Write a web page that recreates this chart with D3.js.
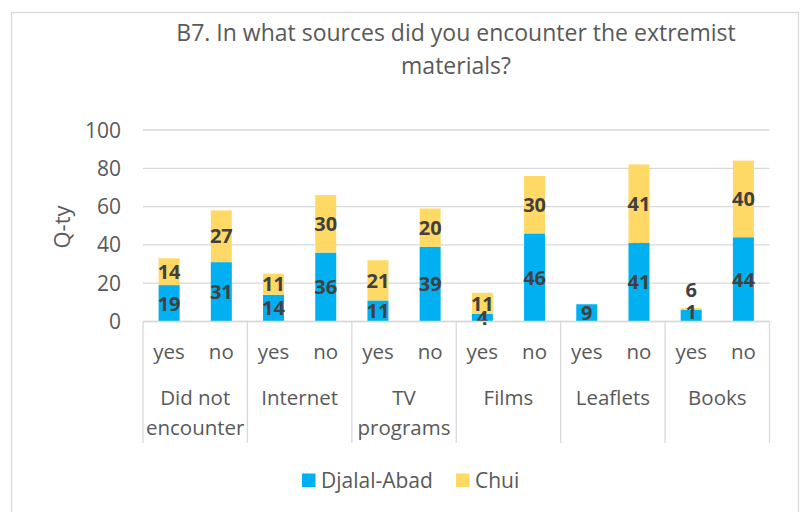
<!DOCTYPE html>
<html>
<head>
<meta charset="utf-8">
<script src="https://cdn.jsdelivr.net/npm/d3@7"></script>
<style>
    body { margin: 0; background: #fff; }
    svg { font-family: "Open Sans", Lato, sans-serif; }
</style>
</head>
<body>
<svg id="chart"></svg>
<script>
const titleLines = ["B7. In what sources did you encounter the extremist", "materials?"];
const categories = ["Did not encounter", "Internet", "TV programs", "Films", "Leaflets", "Books"];
const categoryLines = [["Did not", "encounter"], ["Internet"], ["TV", "programs"], ["Films"], ["Leaflets"], ["Books"]];
const answers = ["yes", "no"];
const seriesNames = ["Djalal-Abad", "Chui"];
const seriesColors = ["#00B0F0", "#FFD966"];
// values per category: [yes, no]
const djalalAbad = [[19, 31], [14, 36], [11, 39], [4, 46], [9, 41], [6, 44]];
const chui = [[14, 27], [11, 30], [21, 20], [11, 30], [0, 41], [1, 40]];
const yTicks = [0, 20, 40, 60, 80, 100];

function buildRows() {
    const rows = [];
    categories.forEach((cat, i) => {
        answers.forEach((ans, j) => {
            rows.push({ key: cat + "|" + ans, cat: cat, ans: ans, values: [djalalAbad[i][j], chui[i][j]] });
        });
    });
    return rows;
}

function drawChart() {
    const width = 804, height = 512;
    const svg = d3.select("#chart").attr("width", width).attr("height", height);
    svg.selectAll("*").remove();

    const plot = { left: 143, right: 769.5, top: 130, bottom: 321.5 };

    // outer chart border
    svg.append("rect")
        .attr("x", 11.5).attr("y", 12.5)
        .attr("width", 787).attr("height", 520)
        .attr("fill", "#fff")
        .attr("stroke", "#D9D9D9")
        .attr("stroke-width", 1.3);

    // title
    svg.append("text")
        .attr("x", 456).attr("y", 40.7)
        .attr("text-anchor", "middle")
        .attr("fill", "#595959")
        .style("font-size", "23px")
        .selectAll("tspan")
        .data(titleLines)
        .enter().append("tspan")
        .attr("x", 456)
        .attr("dy", (d, i) => i === 0 ? 0 : 33.6)
        .text(d => d);

    const rows = buildRows();

    const x0 = d3.scaleBand().domain(categories).range([plot.left, plot.right]);
    const x1 = d3.scaleBand().domain(answers).range([0, x0.bandwidth()]);
    const barWidth = 21;
    const y = d3.scaleLinear().domain([0, 100]).range([plot.bottom, plot.top]);

    // gridlines
    svg.append("g")
        .selectAll("line")
        .data(yTicks)
        .enter().append("line")
        .attr("x1", plot.left).attr("x2", plot.right)
        .attr("y1", d => y(d)).attr("y2", d => y(d))
        .attr("stroke", "#D9D9D9")
        .attr("stroke-width", 1.3);

    // y tick labels
    svg.append("g")
        .selectAll("text")
        .data(yTicks)
        .enter().append("text")
        .attr("x", 121).attr("y", d => y(d))
        .attr("dy", "0.36em")
        .attr("text-anchor", "end")
        .attr("fill", "#595959")
        .style("font-size", "21px")
        .text(d => d);

    // y axis title
    svg.append("text")
        .attr("transform", "translate(70," + 227 + ") rotate(-90)")
        .attr("text-anchor", "middle")
        .attr("fill", "#595959")
        .style("font-size", "22px")
        .text("Q-ty");

    // stacked bars
    const stack = d3.stack()
        .keys([0, 1])
        .value((d, k) => d.values[k]);
    const stacked = stack(rows);
    const barX = d => x0(d.data.cat) + x1(d.data.ans) + x1.bandwidth() / 2 - barWidth / 2;

    svg.append("g")
        .selectAll("g")
        .data(stacked)
        .enter().append("g")
        .attr("fill", (d, i) => seriesColors[i])
        .selectAll("rect")
        .data(d => d)
        .enter().append("rect")
        .attr("x", barX)
        .attr("width", barWidth)
        .attr("y", d => y(d[1]))
        .attr("height", d => y(d[0]) - y(d[1]));

    // data labels: centred in segment, pushed above the bar when two labels collide
    const labels = [];
    rows.forEach((r, ri) => {
        const segs = stacked.map(s => s[ri]);
        const pos = segs.map(s => y((s[0] + s[1]) / 2));
        const cx = x0(r.cat) + x1(r.ans) + x1.bandwidth() / 2;
        if (r.values[0] > 0 && r.values[1] > 0 && Math.abs(pos[0] - pos[1]) < 10) {
            pos[0] = y(segs[1][1]) - 18;
            pos[1] += 3;
        }
        r.values.forEach((v, k) => {
            if (v > 0) labels.push({ x: cx, y: pos[k], v: v });
        });
    });

    svg.append("g")
        .selectAll("text")
        .data(labels)
        .enter().append("text")
        .attr("x", d => d.x).attr("y", d => d.y)
        .attr("dy", "0.36em")
        .attr("text-anchor", "middle")
        .attr("fill", "#404040")
        .style("font-size", "20px")
        .style("font-weight", "bold")
        .text(d => d.v);

    // category axis box
    const axisG = svg.append("g");
    axisG.append("line")
        .attr("x1", plot.left).attr("x2", plot.right)
        .attr("y1", plot.bottom).attr("y2", plot.bottom)
        .attr("stroke", "#D9D9D9").attr("stroke-width", 1.3);

    const seps = categories.map(c => x0(c)).concat([plot.right]);
    axisG.selectAll("line.sep")
        .data(seps)
        .enter().append("line")
        .attr("class", "sep")
        .attr("x1", d => d).attr("x2", d => d)
        .attr("y1", plot.bottom).attr("y2", 443)
        .attr("stroke", "#D9D9D9").attr("stroke-width", 1.3);

    axisG.selectAll("text.ans")
        .data(rows)
        .enter().append("text")
        .attr("class", "ans")
        .attr("x", d => x0(d.cat) + x1(d.ans) + x1.bandwidth() / 2)
        .attr("y", 353)
        .attr("dy", "0.3em")
        .attr("text-anchor", "middle")
        .attr("fill", "#595959")
        .style("font-size", "20.5px")
        .text(d => d.ans);

    axisG.selectAll("text.cat")
        .data(categories)
        .enter().append("text")
        .attr("class", "cat")
        .attr("text-anchor", "middle")
        .attr("fill", "#595959")
        .style("font-size", "20.5px")
        .each(function (d, i) {
            d3.select(this).selectAll("tspan")
                .data(categoryLines[i])
                .enter().append("tspan")
                .attr("x", x0(d) + x0.bandwidth() / 2)
                .attr("y", (t, k) => 398 + k * 30)
                .attr("dy", "0.36em")
                .text(t => t);
        });

    // legend
    const legend = svg.append("g").attr("class", "legend");
    const legendX = [302, 456];
    seriesNames.forEach((name, i) => {
        legend.append("rect")
            .attr("x", legendX[i]).attr("y", 473.5)
            .attr("width", 13.5).attr("height", 13.5)
            .attr("fill", seriesColors[i]);
        legend.append("text")
            .attr("x", legendX[i] + 19).attr("y", 480)
            .attr("dy", "0.36em")
            .attr("fill", "#595959")
            .style("font-size", "21px")
            .text(name);
    });
}

drawChart();
</script>
</body>
</html>
